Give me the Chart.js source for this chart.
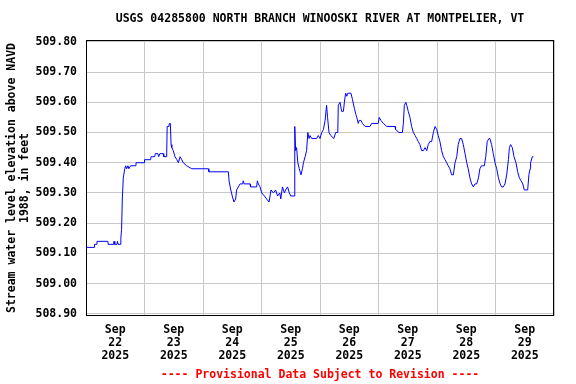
<!DOCTYPE html>
<html>
<head>
<meta charset="utf-8">
<script src="https://cdn.jsdelivr.net/npm/chart.js@4/dist/chart.umd.min.js"></script>
<style>
  body { margin: 0; background: #fff; }
  canvas { display: block; }
</style>
</head>
<body>
<canvas id="chart" width="576" height="384"></canvas>
<script>
// hours since Sep 22 2025 00:00 and gage height (ft above NAVD 1988)
const hours = [
    0, 3.3, 3.5, 4.4, 4.5, 9.0, 9.1, 11.3, 11.5, 11.8, 12.7, 12.9, 13.2, 14.0,
    14.3, 14.6, 14.9, 15.3, 15.9, 16.3, 16.7, 17.2, 17.6, 18.3, 20.4, 20.5, 23.8, 24.0,
    26.5, 26.7, 28.2, 28.4, 29.5, 29.8, 30.3, 31.7, 31.9, 33.1, 33.3, 34.0, 34.2, 34.6,
    34.9, 35.2, 35.8, 36.5, 37.3, 37.9, 38.6, 39.3, 39.9, 41.3, 43.4, 50.2, 50.4, 58.4,
    58.7, 59.4, 60.0, 60.7, 61.4, 61.8, 62.5, 63.2, 64.3, 64.5, 64.9, 67.3, 67.5, 70.0,
    70.3, 70.7, 71.4, 72.1, 73.2, 74.1, 75.1, 75.9, 76.9, 77.8, 78.6, 79.5, 79.9, 80.6,
    81.4, 81.9, 82.7, 83.4, 84.0, 85.5, 85.6, 85.7, 86.0, 86.4, 86.9, 87.5, 88.2, 88.8,
    89.2, 89.9, 90.5, 91.0, 91.5, 91.9, 92.6, 94.6, 95.3, 96.0, 96.7, 97.4, 98.1, 98.7,
    99.1, 99.7, 100.4, 101.7, 102.4, 103.3, 103.5, 104.2, 104.9, 105.6, 106.0, 106.5, 107.0, 107.4,
    108.7, 109.3, 110.1, 110.7, 111.1, 111.7, 112.1, 112.8, 113.4, 114.5, 116.5, 117.2, 119.9, 120.3,
    121.0, 122.0, 123.4, 126.8, 127.0, 128.4, 129.8, 130.2, 130.6, 131.2, 131.6, 132.2, 132.9, 133.6,
    134.3, 135.0, 135.7, 136.3, 137.0, 137.7, 138.4, 139.1, 139.8, 140.4, 141.1, 141.8, 142.5, 143.2,
    143.9, 144.5, 145.2, 145.9, 146.6, 147.3, 148.0, 148.6, 149.3, 150.0, 150.7, 151.4, 152.1, 152.7,
    153.4, 154.1, 154.8, 155.5, 156.2, 156.8, 157.5, 158.2, 158.9, 159.6, 160.3, 161.0, 161.6, 162.3,
    163.4, 164.0, 164.6, 165.3, 165.7, 166.4, 167.1, 167.8, 168.5, 169.2, 169.9, 170.5, 171.2, 171.9,
    172.6, 173.3, 173.7, 174.2, 174.9, 175.6, 176.4, 177.1, 177.8, 178.5, 179.2, 179.8, 180.5, 181.2,
    181.7, 182.2, 182.4, 183.1, 183.5
];
const levels = [
    509.12, 509.12, 509.13, 509.13, 509.14, 509.14, 509.13, 509.13, 509.14, 509.13, 509.13, 509.14, 509.13, 509.13,
    509.15, 509.18, 509.28, 509.35, 509.38, 509.39, 509.38, 509.39, 509.38, 509.39, 509.39, 509.40, 509.40, 509.41,
    509.41, 509.42, 509.42, 509.43, 509.43, 509.42, 509.43, 509.43, 509.42, 509.42, 509.52, 509.52, 509.53, 509.53,
    509.46, 509.45, 509.44, 509.42, 509.41, 509.40, 509.42, 509.41, 509.40, 509.39, 509.38, 509.38, 509.37, 509.37,
    509.34, 509.31, 509.29, 509.27, 509.28, 509.31, 509.32, 509.33, 509.33, 509.34, 509.33, 509.33, 509.32, 509.32,
    509.34, 509.33, 509.32, 509.30, 509.29, 509.28, 509.27, 509.31, 509.30, 509.31, 509.29, 509.30, 509.28, 509.32,
    509.30, 509.31, 509.32, 509.30, 509.29, 509.29, 509.42, 509.52, 509.44, 509.45, 509.40, 509.38, 509.36, 509.38,
    509.40, 509.42, 509.44, 509.50, 509.48, 509.49, 509.48, 509.48, 509.49, 509.48, 509.50, 509.51, 509.54, 509.59,
    509.55, 509.50, 509.49, 509.48, 509.50, 509.50, 509.59, 509.60, 509.57, 509.57, 509.60, 509.63, 509.62, 509.63,
    509.63, 509.61, 509.58, 509.56, 509.55, 509.53, 509.54, 509.54, 509.53, 509.52, 509.52, 509.53, 509.53, 509.55,
    509.54, 509.53, 509.52, 509.52, 509.51, 509.50, 509.50, 509.53, 509.59, 509.60, 509.59, 509.57, 509.55, 509.52,
    509.50, 509.49, 509.48, 509.47, 509.46, 509.44, 509.44, 509.45, 509.44, 509.46, 509.47, 509.47, 509.50, 509.52,
    509.51, 509.49, 509.47, 509.44, 509.42, 509.41, 509.40, 509.39, 509.38, 509.36, 509.36, 509.40, 509.42, 509.46,
    509.48, 509.48, 509.46, 509.43, 509.40, 509.38, 509.35, 509.33, 509.32, 509.33, 509.33, 509.35, 509.38, 509.39,
    509.39, 509.42, 509.47, 509.48, 509.48, 509.46, 509.43, 509.40, 509.38, 509.35, 509.33, 509.32, 509.32, 509.33,
    509.36, 509.41, 509.45, 509.46, 509.45, 509.42, 509.40, 509.37, 509.35, 509.34, 509.33, 509.31, 509.31, 509.31,
    509.36, 509.38, 509.40, 509.42, 509.42
];

const dayCenters = [12, 36, 60, 84, 108, 132, 156, 180];   // noon of each day
const dayLabels = [
    ["Sep", "22", "2025"], ["Sep", "23", "2025"], ["Sep", "24", "2025"], ["Sep", "25", "2025"],
    ["Sep", "26", "2025"], ["Sep", "27", "2025"], ["Sep", "28", "2025"], ["Sep", "29", "2025"]
];
const yTicks = [508.90, 509.00, 509.10, 509.20, 509.30, 509.40, 509.50, 509.60, 509.70, 509.80];

const titleText = "USGS 04285800 NORTH BRANCH WINOOSKI RIVER AT MONTPELIER, VT";
const yTitle = ["Stream water level elevation above NAVD", "1988, in feet"];
const footText = "---- Provisional Data Subject to Revision ----";

const mono = '"DejaVu Sans Mono", "Liberation Mono", monospace';
const font = { family: mono, size: 11.5, weight: 'bold', lineHeight: '13px' };

const frame = {
    id: 'frame',
    afterDraw(chart) {
        const a = chart.chartArea, ctx = chart.ctx;
        ctx.save();
        ctx.strokeStyle = '#000';
        ctx.lineWidth = 1;
        ctx.strokeRect(a.left + 0.5, a.top + 0.5, a.right - a.left - 1, a.bottom - a.top - 1);
        ctx.restore();
    }
};

new Chart(document.getElementById("chart"), {
    type: 'line',
    data: {
        datasets: [{
            data: hours.map((h, i) => ({ x: h, y: levels[i] })),
            borderColor: '#0000ff',
            borderWidth: 1,
            pointRadius: 0,
            tension: 0,
            fill: false
        }]
    },
    options: {
        responsive: false,
        animation: false,
        layout: { padding: { left: 0, right: 22, top: 0, bottom: 0 } },
        plugins: {
            legend: { display: false },
            tooltip: { enabled: false },
            title: {
                display: true,
                text: titleText,
                color: '#000',
                font: font,
                fullSize: false,
                padding: { top: 12.5, bottom: 14.5 }
            },
            subtitle: {
                display: true,
                text: footText,
                position: 'bottom',
                color: '#ff0000',
                font: font,
                fullSize: false,
                padding: { top: 6, bottom: 2 }
            }
        },
        scales: {
            x: {
                type: 'linear',
                min: 0,
                max: 192,
                afterBuildTicks: s => { s.ticks = dayCenters.map(v => ({ value: v })); },
                afterFit: s => { s.height = 47; },
                grid: { color: '#c8c8c8', offset: true, drawTicks: false },
                border: { display: false },
                ticks: {
                    autoSkip: false,
                    maxRotation: 0,
                    padding: 7.5,
                    color: '#000',
                    font: font,
                    callback: (v, i) => dayLabels[i]
                }
            },
            y: {
                min: 508.893,
                max: 509.806,
                afterBuildTicks: s => { s.ticks = yTicks.map(v => ({ value: v })); },
                afterFit: s => { s.width = 86; },
                grid: { color: '#c8c8c8', drawTicks: false },
                border: { display: false },
                ticks: {
                    padding: 9,
                    color: '#000',
                    font: font,
                    callback: v => v.toFixed(2)
                },
                title: {
                    display: true,
                    text: yTitle,
                    color: '#000',
                    font: font,
                    padding: { top: 5.5, bottom: 0 }
                }
            }
        }
    },
    plugins: [frame]
});
</script>
</body>
</html>
